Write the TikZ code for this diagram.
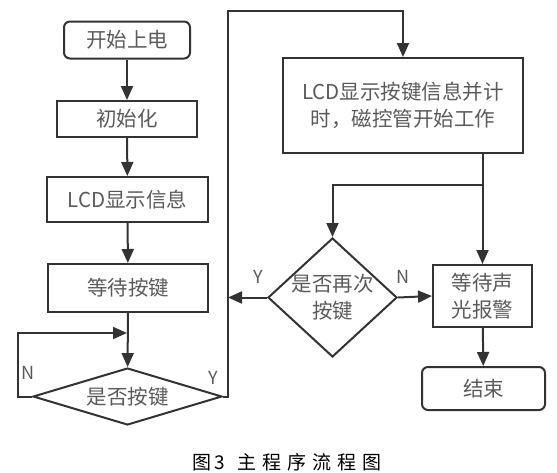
\documentclass[tikz,border=0pt]{standalone}
\usepackage{fontspec}
\setmainfont{Noto Sans CJK SC}
\usetikzlibrary{arrows.meta,shapes.geometric}
\definecolor{lc}{HTML}{333333}
\definecolor{tc}{HTML}{5A5A5A}
\tikzset{
  box/.style={draw=lc, line width=2pt, rectangle, inner sep=0pt, text=tc, font=\fontsize{20.5}{27}\selectfont, align=center},
  rbox/.style={box, rounded corners=6pt},
  dia/.style={draw=lc, line width=2pt, diamond, inner sep=0pt},
  dtext/.style={text=tc, font=\fontsize{20.5}{27}\selectfont, align=center, inner sep=0pt},
  lab/.style={text=tc, font=\fontsize{18}{20}\selectfont, inner sep=0pt},
  conn/.style={draw=lc, line width=2pt},
  arr/.style={conn, -{Triangle[length=14pt,width=12pt]}},
}
\begin{document}
\begin{tikzpicture}[x=1pt,y=-1pt]
\useasboundingbox (0,0) rectangle (557,472);
\node[rbox, minimum width=126pt, minimum height=37pt] (start) at (127,40) {开始上电};
\node[box, minimum width=140pt, minimum height=36pt] (init) at (127,119) {初始化};
\node[box, minimum width=161pt, minimum height=45pt] (lcd) at (127.5,199.5) {LCD显示信息};
\node[box, minimum width=160pt, minimum height=48pt] (wait) at (128,288) {等待按键};
\node[dia, minimum width=189pt, minimum height=57pt] (d1) at (127.5,396.5) {};
\node[dtext] (d1t) at (d1) {是否按键};
\node[box, minimum width=240pt, minimum height=95pt] (big) at (403,105.5) {LCD显示按键信息并计\\时，磁控管开始工作};
\node[dia, minimum width=129pt, minimum height=119pt] (d2) at (332.5,297.5) {};
\node[dtext] (d2t) at (d2) {是否再次\\按键};
\node[box, minimum width=99pt, minimum height=62pt] (alarm) at (482.5,296) {等待声\\光报警};
\node[rbox, minimum width=123pt, minimum height=43pt] (end) at (483.5,388.5) {结束};
\node[lab] (n1) at (28,373) {N};
\node[lab] (y1) at (213,378) {Y};
\node[lab] (y2) at (258,277) {Y};
\node[lab] (n2) at (403,277) {N};
\node[font=\fontsize{19}{20}\selectfont, inner sep=0pt] (cap) at (287,462) {图\hspace{3pt}3\hspace{12pt}主\hspace{6pt}程\hspace{6pt}序\hspace{6pt}流\hspace{6pt}程\hspace{6pt}图};
\coordinate (lj) at (127,333);
\coordinate (ll) at (18,333);
\coordinate (rt) at (228,11);
\coordinate (bj) at (482.5,185);
\draw[arr] (start) -- (init);
\draw[arr] (init) -- (lcd);
\draw[arr] (lcd) -- (wait);
\draw[arr] (wait) -- (d1);
\draw[arr] (d1.west) -- (d1.west -| ll) -- (ll) -- (lj);
\draw[arr] (d1.east) -- (d1.east -| rt) -- (rt) -- (rt -| big.north) -- (big.north);
\draw[conn] (big.south -| bj) -- (bj);
\draw[arr] (bj) -- (alarm.north);
\draw[arr] (bj) -- (bj -| d2.north) -- (d2.north);
\draw[arr] (d2.west) -- (d2.west -| rt);
\draw[arr] (d2.east) -- (alarm.west);
\draw[arr] (alarm) -- (end);
\end{tikzpicture}
\end{document}
